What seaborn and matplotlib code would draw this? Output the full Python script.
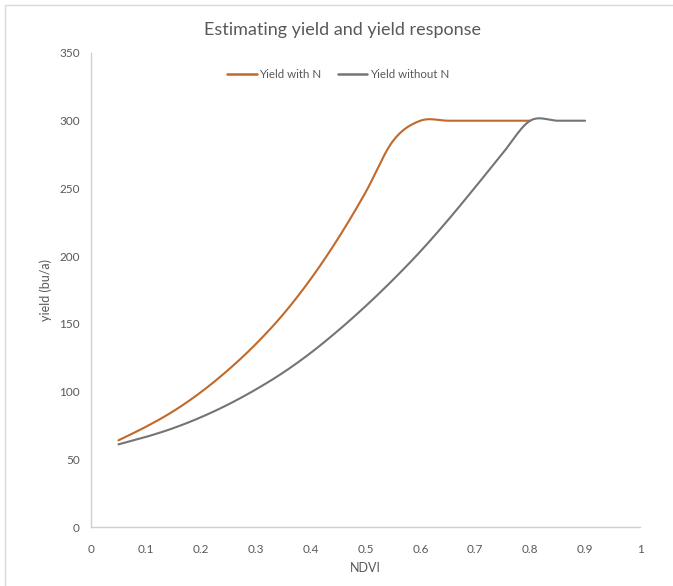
import numpy as np
import pandas as pd
import matplotlib
matplotlib.use("Agg")
import matplotlib.pyplot as plt
from matplotlib.lines import Line2D
import seaborn as sns

# ---- data ----
ndvi_with = [0.05, 0.10, 0.15, 0.20, 0.25, 0.30, 0.35, 0.40, 0.45, 0.50,
             0.55, 0.60, 0.65, 0.70, 0.75, 0.80]
yield_with = [64, 74, 85.5, 99.5, 116, 135, 157, 183, 213, 247,
              285, 300, 300, 300, 300, 300]
ndvi_without = [0.05, 0.10, 0.15, 0.20, 0.25, 0.30, 0.35, 0.40, 0.45, 0.50,
                0.55, 0.60, 0.65, 0.70, 0.75, 0.80, 0.85, 0.90]
yield_without = [61, 66.5, 73, 81, 90.5, 101.5, 114, 128.5, 145, 163,
                 182.5, 203.5, 226.5, 251, 276, 300, 300, 300]
series_names = ["Yield with N", "Yield without N"]
series_colors = ["#C0692A", "#747474"]
x_ticks = [0, 0.1, 0.2, 0.3, 0.4, 0.5, 0.6, 0.7, 0.8, 0.9, 1]
x_ticklabels = ["0", "0.1", "0.2", "0.3", "0.4", "0.5", "0.6", "0.7", "0.8", "0.9", "1"]
y_ticks = [0, 50, 100, 150, 200, 250, 300, 350]


def smooth(xs, ys, n=30):
    """Catmull-Rom style smoothing like Excel's smoothed line rendering."""
    xs = np.asarray(xs, float)
    ys = np.asarray(ys, float)
    m = len(xs)
    mx = np.zeros(m)
    my = np.zeros(m)
    for i in range(m):
        a = max(i - 1, 0)
        b = min(i + 1, m - 1)
        mx[i] = (xs[b] - xs[a]) / (b - a) if b != a else 0
        my[i] = (ys[b] - ys[a]) / (b - a) if b != a else 0
    ox, oy = [], []
    t = np.linspace(0, 1, n, endpoint=False)
    h00 = 2 * t**3 - 3 * t**2 + 1
    h10 = t**3 - 2 * t**2 + t
    h01 = -2 * t**3 + 3 * t**2
    h11 = t**3 - t**2
    for i in range(m - 1):
        ox.extend(h00 * xs[i] + h10 * mx[i] + h01 * xs[i + 1] + h11 * mx[i + 1])
        oy.extend(h00 * ys[i] + h10 * my[i] + h01 * ys[i + 1] + h11 * my[i + 1])
    ox.append(xs[-1])
    oy.append(ys[-1])
    return np.array(ox), np.array(oy)


sx1, sy1 = smooth(ndvi_with, yield_with)
sx2, sy2 = smooth(ndvi_without, yield_without)
df = pd.concat([
    pd.DataFrame({"NDVI": sx1, "yield": sy1, "series": series_names[0]}),
    pd.DataFrame({"NDVI": sx2, "yield": sy2, "series": series_names[1]}),
])

sns.set_theme(style="white")
plt.rcParams["font.family"] = ["Lato", "DejaVu Sans"]

fig = plt.figure(figsize=(6.73, 5.86), dpi=100)
ax = fig.add_axes([91 / 673, 1 - 527 / 586, (640 - 91) / 673, (527 - 53) / 586])

sns.lineplot(data=df, x="NDVI", y="yield", hue="series", palette=series_colors,
             hue_order=series_names, sort=False, estimator=None,
             linewidth=1.5, ax=ax, legend=False)

ax.set_xlim(0, 1)
ax.set_ylim(0, 350)
ax.set_xticks(x_ticks)
ax.set_xticklabels(x_ticklabels)
ax.set_yticks(y_ticks)
ax.tick_params(axis="both", length=0, labelsize=8.5, colors="#595959")
ax.tick_params(axis="x", pad=12)
ax.tick_params(axis="y", pad=8)
for s in ["top", "right"]:
    ax.spines[s].set_visible(False)
for s in ["left", "bottom"]:
    ax.spines[s].set_color("#d0d0d0")
    ax.spines[s].set_linewidth(1.0)

ax.set_xlabel("NDVI", fontsize=9, color="#595959", labelpad=5)
ax.set_ylabel("yield (bu/a)", fontsize=9, color="#595959", labelpad=5)

fig.text(343 / 673, 1 - 30 / 586, "Estimating yield and yield response",
         ha="center", va="center", fontsize=13, color="#595959")

handles = [Line2D([0], [0], color=c, lw=1.8) for c in series_colors]
fig.legend(handles, series_names, loc="center", bbox_to_anchor=(338 / 673, 1 - 75 / 586),
           ncol=2, frameon=False, fontsize=8.3, labelcolor="#595959",
           handlelength=2.6, handletextpad=0.2, columnspacing=1.4)

# light frame (top and left edges) like the reference
fig.add_artist(Line2D([5 / 673, 1], [1 - 5 / 586, 1 - 5 / 586], transform=fig.transFigure,
                      color="#d9d9d9", lw=1))
fig.add_artist(Line2D([5 / 673, 5 / 673], [0, 1 - 5 / 586], transform=fig.transFigure,
                      color="#d9d9d9", lw=1))

fig.savefig("out.png", dpi=100)
